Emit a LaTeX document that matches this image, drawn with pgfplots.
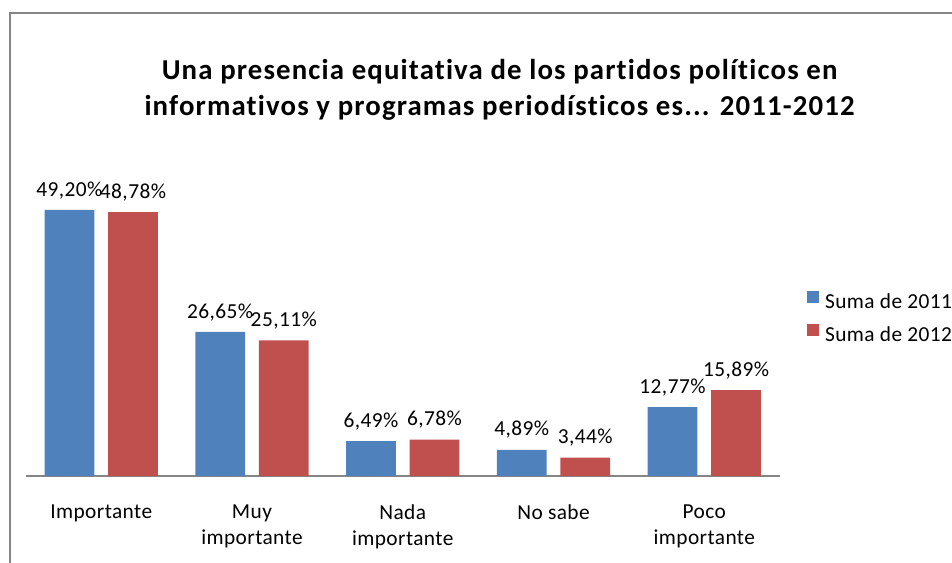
\documentclass[border=0pt]{standalone}
\usepackage{fontspec}
\setmainfont[LetterSpace=2, Ligatures=NoCommon]{Carlito}
\newfontfamily\titlefont[LetterSpace=4, Ligatures=NoCommon]{Carlito}
\usepackage{pgfplots}
\pgfplotsset{compat=1.18}
\definecolor{exblue}{HTML}{4F81BD}
\definecolor{exred}{HTML}{C0504D}
\definecolor{exgray}{HTML}{868686}

\begin{document}
\begin{tikzpicture}[x=1pt,y=1pt]
\begin{axis}[
  name=ax, at={(0pt,0pt)}, anchor=south west,
  scale only axis, width=759pt, height=272.5pt,
  ymin=0, ymax=50, xmin=-0.5, xmax=4.5,
  ybar=14pt, bar width=50pt,
  hide y axis, axis x line*=bottom,
  x axis line style={exgray, line width=1.5pt, -},
  xtick={0,...,4}, major tick length=0pt,
  xticklabels={Importante, {Muy\\importante}, {Nada\\importante}, {No sabe}, {Poco\\importante}},
  xticklabel style={align=center, font=\fontsize{21.5}{26.5}\selectfont, yshift=-25pt},
  clip=false,
  /pgf/number format/assume math mode=true,
  nodes near coords={\pgfmathprintnumber[fixed,fixed zerofill,precision=2,use comma]{\pgfplotspointmeta}\%},
  nodes near coords style={anchor=base, yshift=14pt, font=\fontsize{21.5}{26}\selectfont, inner sep=0pt},
  legend style={at={(1.0365,0.6844)}, anchor=north west, draw=none, fill=none,
    inner sep=0pt, outer sep=0pt, row sep=10pt,
    nodes={inner sep=0pt, text height=15pt, text depth=5pt},
    font=\fontsize{21.5}{26}\selectfont,
    /tikz/every odd column/.append style={column sep=6pt}},
  legend cell align=left,
  legend image code/.code={\fill[#1, draw=none] (0pt,1pt) rectangle (12pt,13pt);},
]
\addplot[fill=exblue, draw=none] coordinates {(0,49.20) (1,26.65) (2,6.49) (3,4.89) (4,12.77)};
\addplot[fill=exred, draw=none] coordinates {(0,48.78) (1,25.11) (2,6.78) (3,3.44) (4,15.89)};
\legend{Suma de 2011, Suma de 2012}
\end{axis}
\path (ax.south west) ++(-26pt,-86.5pt) coordinate (O);
\begin{scope}[shift={(O)}]
\useasboundingbox (0,0) rectangle (952,566);
% chart frame (cut at right and bottom)
\draw[exgray, line width=1.5pt] (10.3,-5) -- (10.3,553) -- (960,553);
% title
\node[anchor=base, inner sep=0pt, font=\fontsize{29}{34}\selectfont\titlefont\bfseries] at (503,486)
  {Una presencia equitativa de los partidos políticos en};
\node[anchor=base, inner sep=0pt, font=\fontsize{29}{34}\selectfont\titlefont\bfseries] at (503,450)
  {informativos y programas periodísticos es... 2011-2012};
\end{scope}
\end{tikzpicture}
\end{document}
